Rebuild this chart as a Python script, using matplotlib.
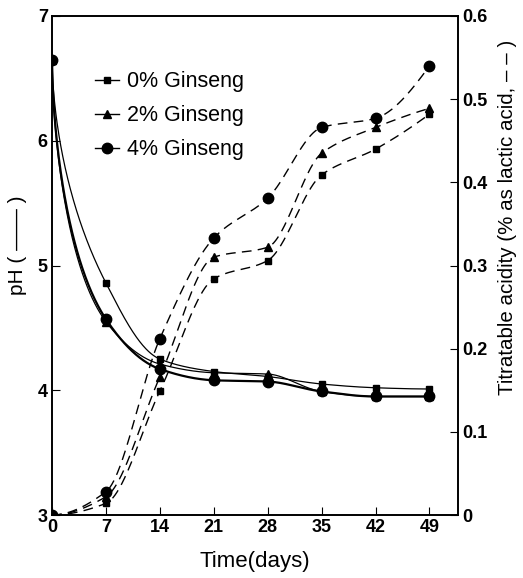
import numpy as np
import matplotlib
matplotlib.use("Agg")
import matplotlib.pyplot as plt
from matplotlib.lines import Line2D

# dados
dias = [0, 7, 14, 21, 28, 35, 42, 49]
series = ["0% Ginseng", "2% Ginseng", "4% Ginseng"]
marcadores = ["s", "^", "o"]

ph_0 = [6.65, 4.86, 4.25, 4.15, 4.11, 4.05, 4.02, 4.01]
ph_2 = [6.65, 4.55, 4.21, 4.14, 4.13, 3.99, 3.95, 3.95]
ph_4 = [6.65, 4.57, 4.17, 4.08, 4.07, 3.99, 3.95, 3.95]

acidez_0 = [0.0, 0.014, 0.149, 0.284, 0.306, 0.409, 0.440, 0.482]
acidez_2 = [0.0, 0.022, 0.166, 0.310, 0.322, 0.435, 0.466, 0.489]
acidez_4 = [0.0, 0.028, 0.212, 0.333, 0.381, 0.466, 0.477, 0.540]


def pchip(x, y, xs):
    # curva suave so para desenhar a linha
    x = np.asarray(x, float)
    y = np.asarray(y, float)
    h = np.diff(x)
    d = np.diff(y) / h
    n = len(x)
    m = np.zeros(n)
    for k in range(1, n - 1):
        if d[k - 1] * d[k] > 0:
            w1 = 2 * h[k] + h[k - 1]
            w2 = h[k] + 2 * h[k - 1]
            m[k] = (w1 + w2) / (w1 / d[k - 1] + w2 / d[k])
    m[0] = ((2 * h[0] + h[1]) * d[0] - h[0] * d[1]) / (h[0] + h[1])
    if np.sign(m[0]) != np.sign(d[0]):
        m[0] = 0
    m[-1] = ((2 * h[-1] + h[-2]) * d[-1] - h[-1] * d[-2]) / (h[-1] + h[-2])
    if np.sign(m[-1]) != np.sign(d[-1]):
        m[-1] = 0
    idx = np.clip(np.searchsorted(x, xs) - 1, 0, n - 2)
    t = (xs - x[idx]) / h[idx]
    h00 = 2 * t**3 - 3 * t**2 + 1
    h10 = t**3 - 2 * t**2 + t
    h01 = -2 * t**3 + 3 * t**2
    h11 = t**3 - t**2
    return h00 * y[idx] + h10 * h[idx] * m[idx] + h01 * y[idx + 1] + h11 * h[idx] * m[idx + 1]


plt.rcParams['font.family'] = ['Liberation Sans', 'DejaVu Sans']

fig = plt.figure(figsize=(5.23, 5.78), dpi=100)
ax1 = fig.add_axes([52 / 523, 1 - 515 / 578, (458 - 52) / 523, (515 - 16) / 578])
ax2 = ax1.twinx()

xs = np.linspace(0, 49, 600)
tamanhos = [4, 6, 7.5]
larguras = [0.9, 0.9, 1.6]
expo = 0.6

for ph, ac, mk, ms, lw in zip([ph_0, ph_2, ph_4], [acidez_0, acidez_2, acidez_4],
                              marcadores, tamanhos, larguras):
    # pH cai rapido no inicio: suaviza numa potencia do tempo
    ax1.plot(xs, pchip(np.power(dias, expo), ph, np.power(xs, expo)), color='black', lw=lw)
    ax1.plot(dias, ph, linestyle='none', marker=mk, color='black', ms=ms)
    ax2.plot(xs, pchip(dias, ac, xs), color='black', lw=1.0, linestyle=(0, (7, 4.5)))
    ax2.plot(dias, ac, linestyle='none', marker=mk, color='black', ms=ms)

ax1.set_xlim(0, 52.7)
ax1.set_ylim(3, 7)
ax2.set_ylim(0, 0.6)
ax1.set_xticks(dias)
ax1.set_yticks([3, 4, 5, 6, 7])
ax2.set_yticks([0, 0.1, 0.2, 0.3, 0.4, 0.5, 0.6])
ax2.set_yticklabels(['0', '0.1', '0.2', '0.3', '0.4', '0.5', '0.6'])

for a in (ax1, ax2):
    a.tick_params(direction='in', length=6, width=0.8, labelsize=13, pad=3)
    for lab in a.get_xticklabels() + a.get_yticklabels():
        lab.set_fontweight('bold')
    for s in a.spines.values():
        s.set_linewidth(1.2)

ax1.set_xlabel('Time(days)', fontsize=16, labelpad=11)
ax1.set_ylabel('pH ( —— )', fontsize=15)
ax1.yaxis.set_label_coords(-0.062, 0.541)
ax2.set_ylabel('Titratable acidity (% as lactic acid, – – )', fontsize=14.8)
ax2.yaxis.set_label_coords(1.098, 0.597)

handles = [Line2D([], [], color='black', lw=1, marker=mk, ms=ms)
           for mk, ms in zip(marcadores, tamanhos)]
ax1.legend(handles, series, loc='upper left', bbox_to_anchor=(0.058, 0.928), frameon=False,
           fontsize=15.5, handlelength=1.1, handletextpad=0.4, labelspacing=0.6)

fig.savefig('out.png', dpi=100)
